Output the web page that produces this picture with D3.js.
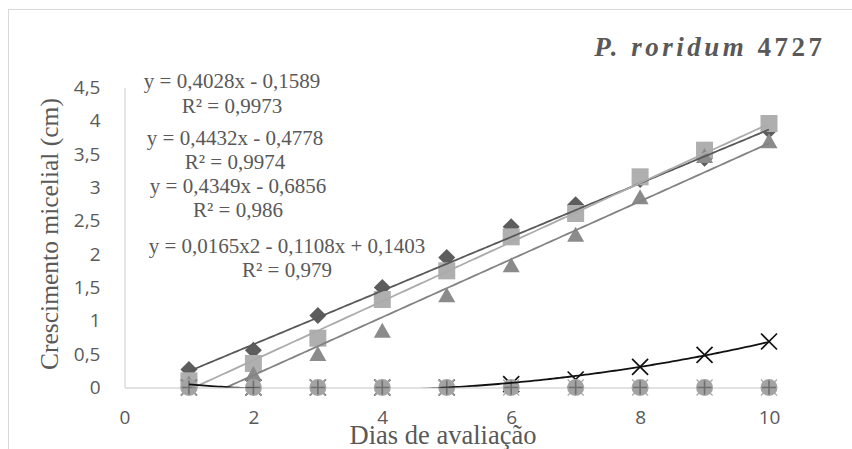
<!DOCTYPE html>
<html>
<head>
<meta charset="utf-8">
<title>P. roridum 4727</title>
<script src="https://d3js.org/d3.v7.min.js"></script>
<style>
  body { margin: 0; background: #fff; }
  svg { display: block; }
  .tick text { font-family: "Open Sans", sans-serif; font-size: 19px; fill: #595959; }
  .serif { font-family: "Liberation Serif", "Times New Roman", serif; fill: #595959; }
</style>
</head>
<body>
<div id="chart"></div>
<script>
// data
const days = [1, 2, 3, 4, 5, 6, 7, 8, 9, 10];
const diamondVals  = [0.27, 0.56, 1.08, 1.50, 1.95, 2.41, 2.74, 3.12, 3.44, 3.86];
const squareVals   = [0.10, 0.36, 0.74, 1.32, 1.75, 2.26, 2.61, 3.16, 3.56, 3.96];
const triangleVals = [0.07, 0.21, 0.51, 0.86, 1.39, 1.84, 2.30, 2.86, 3.48, 3.70];
const crossVals    = [0, 0, 0, 0, 0, 0.05, 0.12, 0.31, 0.49, 0.69];
const circleVals   = [0, 0, 0, 0, 0, 0, 0, 0, 0, 0];
const plusVals     = [0, 0, 0, 0, 0, 0, 0, 0, 0, 0];
const greyXVals    = [0, 0, 0, 0, 0, 0, 0, 0, 0, 0];

// trendline coefficients (highest power first)
const diamondFit  = [0.4028, -0.1589];
const squareFit   = [0.4432, -0.4778];
const triangleFit = [0.4349, -0.6856];
const crossFit    = [0.0165, -0.1108, 0.1403];

const eqLabels = [
  ["y = 0,4028x - 0,1589", "R² = 0,9973"],
  ["y = 0,4432x - 0,4778", "R² = 0,9974"],
  ["y = 0,4349x - 0,6856", "R² = 0,986"],
  ["y = 0,0165x2 - 0,1108x + 0,1403", "R² = 0,979"]
];

const xTicks = [0, 2, 4, 6, 8, 10];
const yTicks = [0, 0.5, 1, 1.5, 2, 2.5, 3, 3.5, 4, 4.5];

const W = 852, H = 449;
const svg = d3.select("#chart").append("svg").attr("width", W).attr("height", H);

// outer chart border
svg.append("rect")
    .attr("x", 8.5).attr("y", 9.5)
    .attr("width", 900).attr("height", 500)
    .attr("fill", "none").attr("stroke", "#d9d9d9");

const x = d3.scaleLinear().domain([0, 10]).range([124.5, 769]);
const y = d3.scaleLinear().domain([0, 4.5]).range([387.5, 87.5]);

const fmt = d => String(d).replace(".", ",");

const yAxis = svg.append("g")
    .attr("transform", `translate(${x(0)},0)`)
    .call(d3.axisLeft(y).tickValues(yTicks).tickFormat(fmt).tickSize(0).tickPadding(24));
const xAxis = svg.append("g")
    .attr("transform", `translate(0,${y(0)})`)
    .call(d3.axisBottom(x).tickValues(xTicks).tickFormat(fmt).tickSize(0).tickPadding(23));
[xAxis, yAxis].forEach(g => g.select(".domain").attr("stroke", "#d9d9d9").attr("stroke-width", 1.3));

// clip for trendlines
svg.append("clipPath").attr("id", "plotClip")
  .append("rect")
    .attr("x", x(0)).attr("y", y(4.5))
    .attr("width", x(10) - x(0)).attr("height", y(0) - y(4.5));

const poly = (c, v) => c.reduce((acc, k) => acc * v + k, 0);

// markers
const markers = svg.append("g");
const tri = "M0,-7.5L8.5,7.5L-8.5,7.5Z";
const dia = "M0,-8.5L8.5,0L0,8.5L-8.5,0Z";

markers.selectAll(".dia").data(days).join("path")
    .attr("transform", (d, i) => `translate(${x(d)},${y(diamondVals[i])})`)
    .attr("d", dia).attr("fill", "#5d5d5d");

markers.selectAll(".sq").data(days).join("rect")
    .attr("x", (d) => x(d) - 8.5)
    .attr("y", (d, i) => y(squareVals[i]) - 8.5)
    .attr("width", 17).attr("height", 17)
    .attr("fill", "#afafaf");

markers.selectAll(".tri").data(days).join("path")
    .attr("transform", (d, i) => `translate(${x(d)},${y(triangleVals[i])})`)
    .attr("d", tri).attr("fill", "#8b8b8b");

markers.selectAll(".cx").data(days).join("path")
    .attr("transform", (d, i) => `translate(${x(d)},${y(crossVals[i])})`)
    .attr("d", "M-8,-8L8,8M8,-8L-8,8")
    .attr("stroke", "#111").attr("stroke-width", 1.7).attr("fill", "none");

markers.selectAll(".gx").data(days).join("path")
    .attr("transform", (d, i) => `translate(${x(d)},${y(greyXVals[i])})`)
    .attr("d", "M-8,-8L8,8M8,-8L-8,8")
    .attr("stroke", "#a8a8a8").attr("stroke-width", 1.2).attr("fill", "none");

markers.selectAll(".circ").data(days).join("circle")
    .attr("cx", d => x(d))
    .attr("cy", (d, i) => y(circleVals[i]))
    .attr("r", 8.5)
    .attr("fill", "#a3a3a3");

markers.selectAll(".plus").data(days).join("path")
    .attr("transform", (d, i) => `translate(${x(d)},${y(plusVals[i])})`)
    .attr("d", "M-7,0L7,0M0,-7L0,7")
    .attr("stroke", "#6f6f6f").attr("stroke-width", 1.6);

// trendlines
const trends = [
  { c: diamondFit, color: "#595959" },
  { c: squareFit, color: "#ababab" },
  { c: triangleFit, color: "#838383" },
  { c: crossFit, color: "#111" }
];
const sx = d3.range(1, 10.0001, 0.05);
const line = d3.line().x(d => x(d[0])).y(d => y(d[1]));
svg.append("g").attr("clip-path", "url(#plotClip)")
  .selectAll("path").data(trends).join("path")
    .attr("d", t => line(sx.map(v => [v, poly(t.c, v)])))
    .attr("fill", "none")
    .attr("stroke", t => t.color)
    .attr("stroke-width", 1.8);

// equation labels
const eqPos = [[232, 88, 113], [235, 145, 169], [238, 193, 217], [287, 253, 277]];
const eqG = svg.append("g").attr("class", "serif").attr("font-size", 21).attr("text-anchor", "middle");
eqLabels.forEach((lab, i) => {
  eqG.append("text").attr("x", eqPos[i][0]).attr("y", eqPos[i][1]).text(lab[0]);
  eqG.append("text").attr("x", eqPos[i][0]).attr("y", eqPos[i][2]).text(lab[1]);
});

// title
const title = svg.append("text").attr("class", "serif")
    .attr("x", 825.5).attr("y", 56)
    .attr("text-anchor", "end")
    .attr("font-size", 27).attr("font-weight", "bold")
    .attr("letter-spacing", 3.5);
title.append("tspan").attr("font-style", "italic").text("P. roridum ");
title.append("tspan").text("4727");

// axis titles
svg.append("text").attr("class", "serif")
    .attr("x", 443).attr("y", 444)
    .attr("text-anchor", "middle").attr("font-size", 26.5)
    .text("Dias de avaliação");
svg.append("text").attr("class", "serif")
    .attr("transform", "translate(58,234) rotate(-90)")
    .attr("text-anchor", "middle").attr("font-size", 25.5)
    .text("Crescimento micelial (cm)");
</script>
</body>
</html>
